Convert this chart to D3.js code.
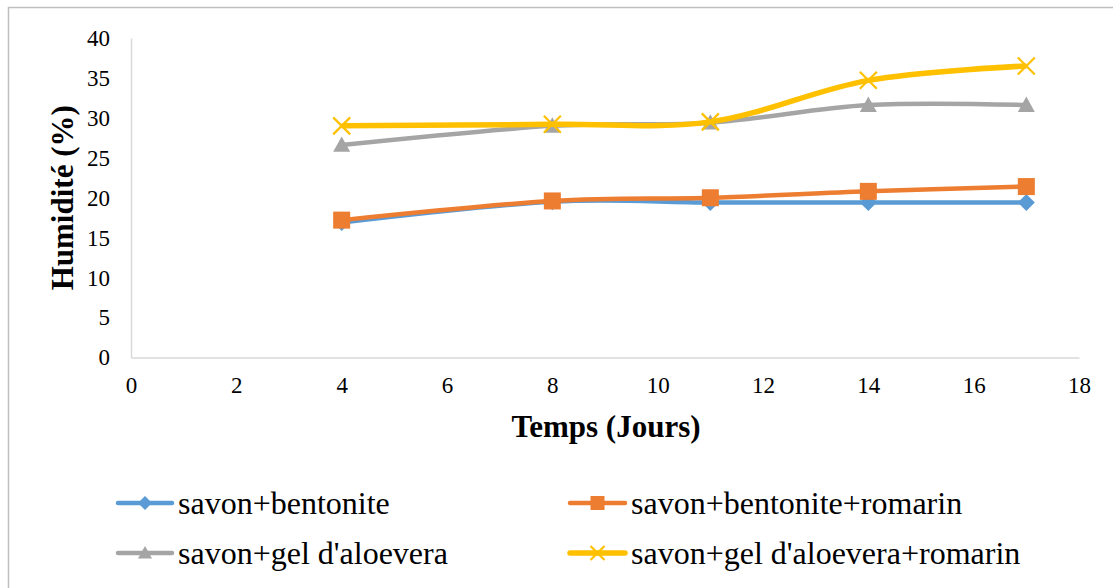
<!DOCTYPE html>
<html>
<head>
<meta charset="utf-8">
<script src="https://cdn.jsdelivr.net/npm/d3@7"></script>
<style>
  html, body { margin: 0; padding: 0; background: #fff; }
  svg { display: block; }
</style>
</head>
<body>
<svg id="chart" width="1113" height="588"></svg>
<script>
// Measurement days
const days = [4, 8, 11, 14, 17];

// Moisture content (%) per formulation
const bentonite = [16.9, 19.5, 19.4, 19.4, 19.4];
const bentoniteRomarin = [17.2, 19.6, 20.0, 20.8, 21.4];
const aloevera = [26.6, 29.0, 29.4, 31.6, 31.6];
const aloeveraRomarin = [29.0, 29.2, 29.5, 34.7, 36.5];

const seriesNames = [
  "savon+bentonite",
  "savon+bentonite+romarin",
  "savon+gel d'aloevera",
  "savon+gel d'aloevera+romarin"
];

const xTicks = [0, 2, 4, 6, 8, 10, 12, 14, 16, 18];
const yTicks = [0, 5, 10, 15, 20, 25, 30, 35, 40];

const colors = ["#5B9BD5", "#ED7D31", "#A5A5A5", "#FFC000"];
const markers = ["diamond", "square", "triangle", "cross"];
const widths = [4.5, 4.5, 4.5, 5.5];

const FONT = '"Liberation Serif", "Times New Roman", serif';

const series = [bentonite, bentoniteRomarin, aloevera, aloeveraRomarin].map((vals, i) => ({
  name: seriesNames[i],
  color: colors[i],
  marker: markers[i],
  width: widths[i],
  points: days.map((d, j) => ({ x: d, y: vals[j] }))
}));

const svg = d3.select("#chart");

// Outer chart frame
svg.append("rect")
  .attr("x", 8.5).attr("y", 7.5)
  .attr("width", 1120).attr("height", 600)
  .attr("fill", "none").attr("stroke", "#BFBFBF").attr("stroke-width", 1.5);

const x = d3.scaleLinear().domain([0, 18]).range([131, 1079]);
const y = d3.scaleLinear().domain([0, 40]).range([357.5, 38]);

// Axes
const xAxis = svg.append("g")
  .attr("transform", `translate(0,${y(0)})`)
  .call(d3.axisBottom(x).tickValues(xTicks).tickSize(0).tickPadding(19).tickFormat(d3.format("d")));
const yAxis = svg.append("g")
  .attr("transform", `translate(${x(0)},0)`)
  .call(d3.axisLeft(y).tickValues(yTicks).tickSize(0).tickPadding(21).tickFormat(d3.format("d")));

[xAxis, yAxis].forEach(g => {
  g.select(".domain").attr("stroke", "#D9D9D9").attr("stroke-width", 1.5);
  g.selectAll("text")
    .style("font-family", FONT)
    .style("font-size", "23px")
    .attr("fill", "#000");
});
xAxis.selectAll("text").attr("dy", "0.71em");

// Axis titles
svg.append("text")
  .attr("x", 606).attr("y", 437)
  .attr("text-anchor", "middle")
  .style("font-family", FONT).style("font-size", "31px").style("font-weight", "bold")
  .text("Temps (Jours)");

svg.append("text")
  .attr("transform", `translate(73,${(y(0) + y(40)) / 2}) rotate(-90)`)
  .attr("text-anchor", "middle")
  .style("font-family", FONT).style("font-size", "31px").style("font-weight", "bold")
  .text("Humidité (%)");

// Marker drawing
function drawMarker(g, type, color, size) {
  const s = size / 2;
  if (type === "diamond") {
    g.append("path").attr("d", `M0,${-s}L${s},0L0,${s}L${-s},0Z`).attr("fill", color);
  } else if (type === "square") {
    g.append("rect").attr("x", -s).attr("y", -s).attr("width", size).attr("height", size).attr("fill", color);
  } else if (type === "triangle") {
    g.append("path").attr("d", `M0,${-s}L${s},${s * 0.8}L${-s},${s * 0.8}Z`).attr("fill", color);
  } else if (type === "cross") {
    g.append("path").attr("d", `M${-s},${-s}L${s},${s}M${s},${-s}L${-s},${s}`)
      .attr("stroke", color).attr("stroke-width", 2.2).attr("fill", "none");
  }
}

const line = d3.line()
  .x(d => x(d.x))
  .y(d => y(d.y))
  .curve(d3.curveCardinal.tension(0));

const plot = svg.append("g");
series.forEach(s => {
  plot.append("path")
    .datum(s.points)
    .attr("d", line)
    .attr("fill", "none")
    .attr("stroke", s.color)
    .attr("stroke-width", s.width)
    .attr("stroke-linejoin", "round");
  s.points.forEach(p => {
    const g = plot.append("g").attr("transform", `translate(${x(p.x)},${y(p.y)})`);
    drawMarker(g, s.marker, s.color, 17);
  });
});

// Legend
const legendPos = [
  { lx: 118, ly: 503 },
  { lx: 570, ly: 503 },
  { lx: 118, ly: 553 },
  { lx: 570, ly: 553 }
];
series.forEach((s, i) => {
  const p = legendPos[i];
  const g = svg.append("g").attr("transform", `translate(${p.lx},${p.ly})`);
  const w = i % 2 === 0 ? 54 : 55;
  g.append("line")
    .attr("x1", 0).attr("x2", w).attr("y1", 0).attr("y2", 0)
    .attr("stroke", s.color).attr("stroke-width", s.width).attr("stroke-linecap", "round");
  const m = g.append("g").attr("transform", `translate(${w / 2},0)`);
  drawMarker(m, s.marker, s.color, 14);
  g.append("text")
    .attr("x", w + 6).attr("y", 0).attr("dy", "0.33em")
    .style("font-family", FONT).style("font-size", "32px")
    .attr("fill", "#000")
    .text(s.name);
});
</script>
</body>
</html>
